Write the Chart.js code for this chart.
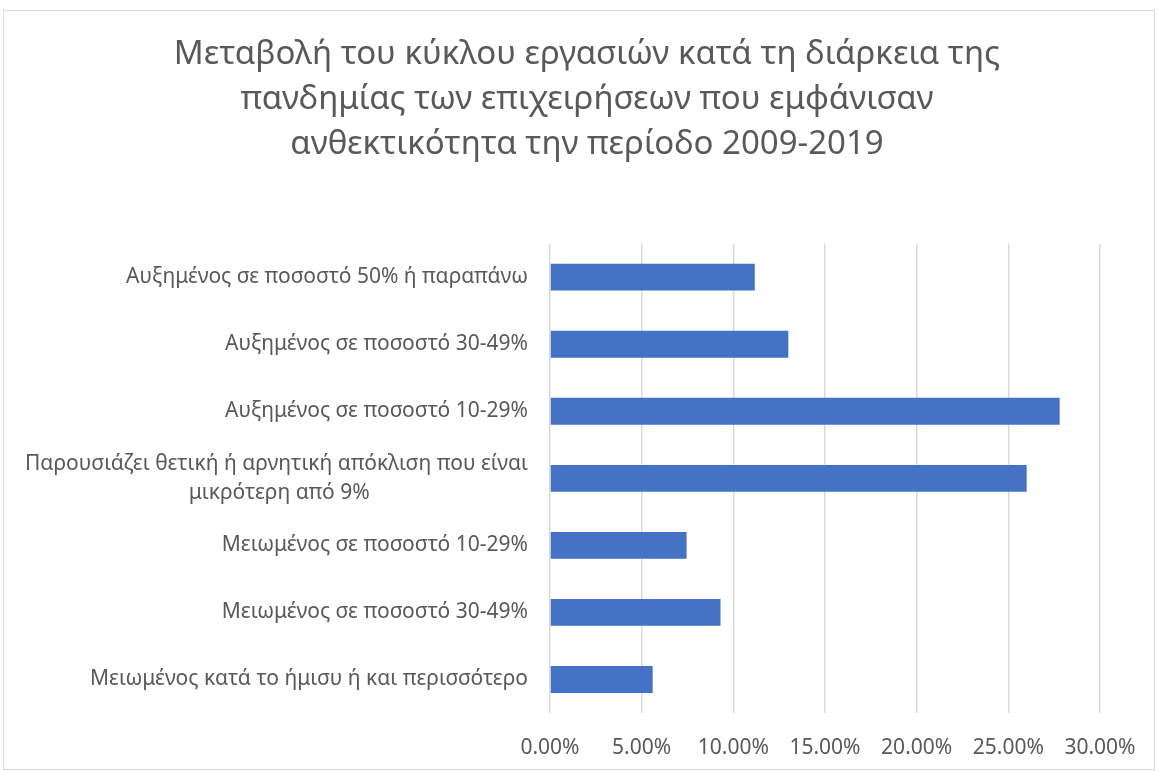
<!DOCTYPE html>
<html>
<head>
<meta charset="utf-8">
<script src="https://cdn.jsdelivr.net/npm/chart.js@4"></script>
<style>
  html, body { margin: 0; padding: 0; background: #fff; }
  #wrap { width: 1158px; height: 771px; position: relative; }
</style>
</head>
<body>
<div id="wrap"><canvas id="chart" width="1158" height="771"></canvas></div>
<script>
/* data */
const titleLines = [
  'Μεταβολή του κύκλου εργασιών κατά τη διάρκεια της',
  'πανδημίας των επιχειρήσεων που εμφάνισαν',
  'ανθεκτικότητα την περίοδο 2009-2019'
];
const categories = [
  'Αυξημένος σε ποσοστό 50% ή παραπάνω',
  'Αυξημένος σε ποσοστό 30-49%',
  'Αυξημένος σε ποσοστό 10-29%',
  ['Παρουσιάζει θετική ή αρνητική απόκλιση που είναι', 'μικρότερη από 9%'],
  'Μειωμένος σε ποσοστό 10-29%',
  'Μειωμένος σε ποσοστό 30-49%',
  'Μειωμένος κατά το ήμισυ ή και περισσότερο'
];
const values = [11.17, 13.0, 27.8, 26.0, 7.45, 9.3, 5.6];
const xTicks = [0, 5, 10, 15, 20, 25, 30];

const GRAY = '#595959';
const FONT = "'Noto Sans', sans-serif";
const LABEL_PX = 21;

/* wrapped labels are centred line by line in the reference; chart.js right-aligns
   every line, so pad the shorter lines with trailing spaces to fake the centring */
const mctx = document.createElement('canvas').getContext('2d');
mctx.font = LABEL_PX + 'px ' + FONT;
function centreLines(lines) {
  const widths = lines.map(l => mctx.measureText(l).width);
  const w = Math.max(...widths);
  const sp = mctx.measureText('\u00a0').width;
  return lines.map((l, i) => l + '\u00a0'.repeat(Math.round((w - widths[i]) / 2 / sp)));
}

/* light frame round the whole chart, like the office export;
   also nudge the title box so it is centred the way the reference is */
const frame = {
  id: 'frame',
  afterLayout(c) {
    const t = c.titleBlock;
    if (t) { t.left = 74; t.width = t.right - t.left; }
  },
  beforeDraw(c) {
    const ctx = c.ctx;
    ctx.save();
    ctx.strokeStyle = '#d9d9d9';
    ctx.lineWidth = 1;
    ctx.strokeRect(3.5, 10.5, c.width - 7, c.height - 12);
    ctx.restore();
  }
};

new Chart($('chart'), {
  type: 'bar',
  data: {
    labels: categories,
    datasets: [{
      data: values,
      backgroundColor: '#4472C4',
      borderWidth: 0,
      categoryPercentage: 0.4,
      barPercentage: 1
    }]
  },
  options: {
    indexAxis: 'y',
    responsive: false,
    animation: false,
    layout: { padding: { top: 32, right: 58, left: 10, bottom: 10 } },
    plugins: {
      legend: { display: false },
      tooltip: { enabled: false },
      title: {
        display: true,
        text: titleLines,
        color: GRAY,
        font: { family: FONT, size: 33, weight: 'normal', lineHeight: 1.36 },
        padding: { top: 0, bottom: 77 }
      }
    },
    scales: {
      x: {
        min: 0, max: 30,
        afterBuildTicks: s => { s.ticks = xTicks.map(v => ({ value: v })); },
        ticks: { color: GRAY, font: { family: FONT, size: LABEL_PX }, padding: 22,
                 callback: v => v.toFixed(2) + '%' },
        grid: { color: '#d9d9d9', lineWidth: 1.5, drawTicks: false },
        border: { display: false },
        afterFit: s => { s.height = 48; s.paddingLeft = 0; s.paddingRight = 0; }
      },
      y: {
        ticks: {
          color: GRAY, font: { family: FONT, size: LABEL_PX, lineHeight: 1.4 }, padding: 22,
          callback: (v, i) => Array.isArray(categories[i]) ? centreLines(categories[i]) : categories[i]
        },
        grid: { display: false, drawTicks: false },
        border: { display: false },
        afterFit: s => { s.width = 540; s.paddingTop = 0; s.paddingBottom = 0; }
      }
    }
  },
  plugins: [frame]
});

function $(id) { return document.getElementById(id); }
</script>
</body>
</html>
